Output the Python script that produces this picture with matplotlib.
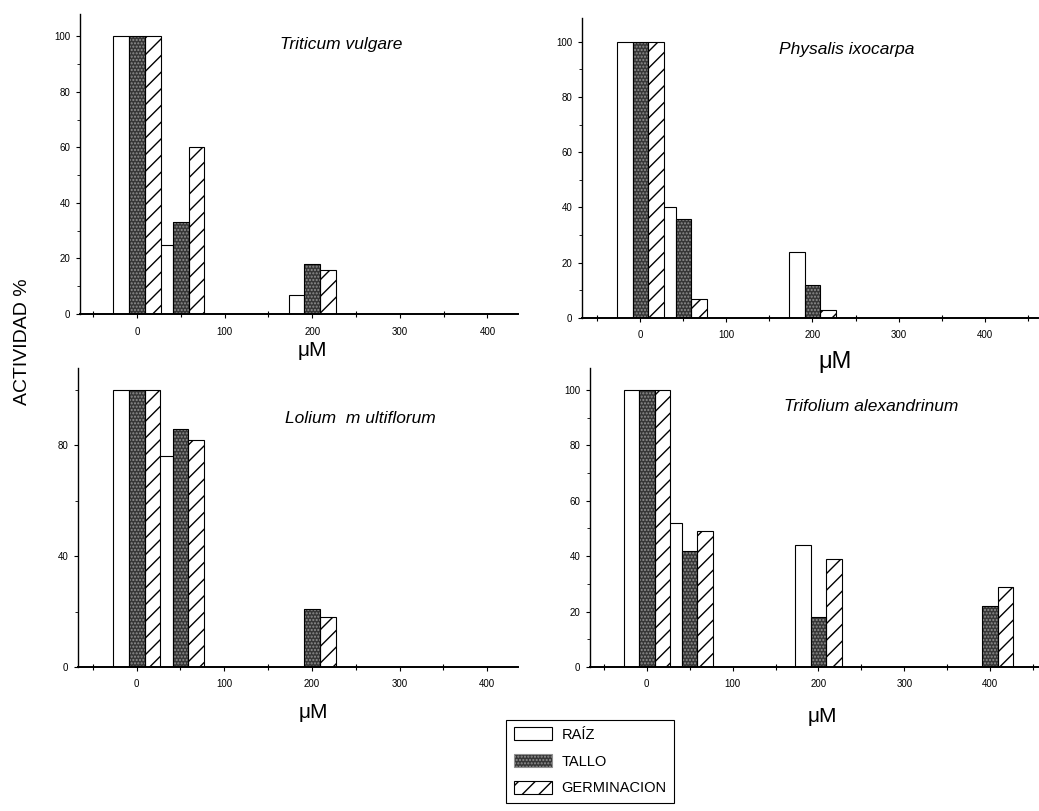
import numpy as np
import matplotlib.pyplot as plt
from matplotlib.patches import Patch
from matplotlib.ticker import MultipleLocator

# concentraciones ensayadas (uM)
conc = np.array([0, 50, 200, 400])

# actividad (%) por especie: raiz, tallo, germinacion
triticum_raiz = [100, 25, 7, 0]
triticum_tallo = [100, 33, 18, 0]
triticum_germ = [100, 60, 16, 0]

physalis_raiz = [100, 40, 24, 0]
physalis_tallo = [100, 36, 12, 0]
physalis_germ = [100, 7, 3, 0]

lolium_raiz = [100, 76, 0, 0]
lolium_tallo = [100, 86, 21, 0]
lolium_germ = [100, 82, 18, 0]

trifolium_raiz = [100, 52, 44, 0]
trifolium_tallo = [100, 42, 18, 22]
trifolium_germ = [100, 49, 39, 29]

species = ["Triticum vulgare", "Physalis ixocarpa",
           "Lolium  m ultiflorum", "Trifolium alexandrinum"]
series_labels = ["RAÍZ", "TALLO", "GERMINACION"]

plt.rcParams['font.family'] = ['Liberation Sans', 'DejaVu Sans']

W = 18  # bar width in uM units
TALLO_FACE = '#363636'


def draw_bars(ax, raiz, tallo, germ):
    ax.bar(conc - W, raiz, W, color='white', edgecolor='black', linewidth=0.8, zorder=2)
    # stippled fill for tallo, then a black outline on top
    ax.bar(conc, tallo, W, color=TALLO_FACE, edgecolor='#909090', hatch='.....',
           linewidth=0, zorder=2)
    ax.bar(conc, tallo, W, color='none', edgecolor='black', linewidth=0.8, zorder=3)
    ax.bar(conc + W, germ, W, color='white', edgecolor='black', hatch='//',
           linewidth=0.8, zorder=2)


def style_axis(ax, xlim, ylim, ymajor, yminor):
    ax.set_xlim(*xlim)
    ax.set_ylim(*ylim)
    for s in ['top', 'right']:
        ax.spines[s].set_visible(False)
    ax.spines['left'].set_linewidth(1.0)
    ax.spines['bottom'].set_linewidth(1.4)
    ax.set_xticks([0, 100, 200, 300, 400])
    ax.xaxis.set_minor_locator(MultipleLocator(50))
    ax.yaxis.set_major_locator(MultipleLocator(ymajor))
    ax.yaxis.set_minor_locator(MultipleLocator(yminor))
    ax.tick_params(axis='both', which='major', labelsize=7, length=3, width=0.8,
                   direction='out')
    ax.tick_params(axis='x', which='major', pad=6)
    ax.tick_params(axis='y', which='major', pad=4)
    ax.tick_params(axis='x', which='minor', length=5, width=0.8, direction='inout')
    ax.tick_params(axis='y', which='minor', length=2, width=0.6, direction='out')


fig = plt.figure(figsize=(10.39, 8.11), dpi=100)

ax1 = fig.add_axes([0.077, 0.6128, 0.4216, 0.370])
ax2 = fig.add_axes([0.560, 0.608, 0.439, 0.370])
ax3 = fig.add_axes([0.075, 0.1776, 0.4235, 0.369])
ax4 = fig.add_axes([0.568, 0.1776, 0.432, 0.369])

draw_bars(ax1, triticum_raiz, triticum_tallo, triticum_germ)
draw_bars(ax2, physalis_raiz, physalis_tallo, physalis_germ)
draw_bars(ax3, lolium_raiz, lolium_tallo, lolium_germ)
draw_bars(ax4, trifolium_raiz, trifolium_tallo, trifolium_germ)

style_axis(ax1, (-65, 435), (0, 108), 20, 10)
style_axis(ax2, (-68, 462), (0, 108.7), 20, 10)
style_axis(ax3, (-67, 435), (0, 108), 40, 20)
style_axis(ax4, (-66, 457), (0, 108), 20, 10)

title_kw = dict(ha='center', va='center', fontsize=12.5, style='italic')
ax1.text(0.596, 0.897, species[0], transform=ax1.transAxes, **title_kw)
ax2.text(0.581, 0.893, species[1], transform=ax2.transAxes, **title_kw)
ax3.text(0.643, 0.829, species[2], transform=ax3.transAxes, **title_kw)
ax4.text(0.626, 0.870, species[3], transform=ax4.transAxes, **title_kw)

# axis titles
fig.text(312 / 1039, 1 - 350 / 811, 'μM', ha='center', va='center', fontsize=15)
fig.text(835 / 1039, 1 - 362 / 811, 'μM', ha='center', va='center', fontsize=17)
fig.text(313 / 1039, 1 - 712 / 811, 'μM', ha='center', va='center', fontsize=15)
fig.text(822 / 1039, 1 - 717 / 811, 'μM', ha='center', va='center', fontsize=15)
fig.text(23 / 1039, 1 - 342 / 811, 'ACTIVIDAD %', rotation=90, ha='center',
         va='center', fontsize=14)

handles = [
    Patch(facecolor='white', edgecolor='black', linewidth=0.8),
    Patch(facecolor=TALLO_FACE, edgecolor='#909090', hatch='.....', linewidth=0.8),
    Patch(facecolor='white', edgecolor='black', hatch='//', linewidth=0.8),
]
leg = fig.legend(handles, series_labels, loc='lower left',
                 bbox_to_anchor=(499 / 1039, 1 - 810 / 811), fontsize=10.5,
                 frameon=True, fancybox=False, edgecolor='black', framealpha=1,
                 handlelength=2.6, handleheight=1.0, labelspacing=0.85,
                 borderpad=0.5, handletextpad=0.7)
leg.get_frame().set_linewidth(0.8)

fig.savefig('out.png', dpi=100)
